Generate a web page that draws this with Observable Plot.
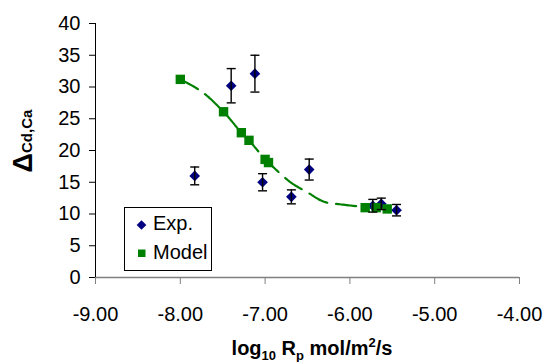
<!DOCTYPE html>
<html>
<head>
<meta charset="utf-8">
<script src="https://cdn.jsdelivr.net/npm/d3@7"></script>
<script src="https://cdn.jsdelivr.net/npm/@observablehq/plot@0.6"></script>
<style>
  html, body { margin: 0; padding: 0; background: #fff; }
  #chart svg { display: block; font-family: "Liberation Sans", Arial, sans-serif; }
</style>
</head>
<body>
<div id="chart"></div>
<script>
// Experimental data (log10 Rp, Delta, error)
const expX   = [-7.83, -7.40, -7.12, -7.03, -6.69, -6.48, -5.73, -5.63, -5.45];
const expY   = [16.0, 30.2, 32.1, 15.0, 12.7, 17.0, 11.3, 11.6, 10.6];
const expErr = [1.4, 2.7, 2.9, 1.35, 1.1, 1.65, 1.0, 0.9, 0.9];

// Model points
const modelX = [-8.0, -7.49, -7.28, -7.19, -7.0, -6.96, -5.82, -5.69, -5.56];
const modelY = [31.2, 26.1, 22.8, 21.6, 18.6, 18.1, 11.0, 11.0, 10.8];

// Model curve (dotted line)
const curveX = [-8.0, -7.75, -7.49, -7.28, -7.19, -7.0, -6.96, -6.7, -6.5, -6.3, -6.1, -5.82, -5.69, -5.56];
const curveY = [31.2, 29.3, 26.1, 22.8, 21.6, 18.6, 18.1, 15.0, 13.4, 11.9, 11.5, 11.1, 11.0, 10.8];

const xTicks = [-9, -8, -7, -6, -5, -4];
const yTicks = [0, 5, 10, 15, 20, 25, 30, 35, 40];
const legendLabels = ["Exp.", "Model"];

const expData = expX.map((x, i) => ({x, y: expY[i], lo: expY[i] - expErr[i], hi: expY[i] + expErr[i]}));
const modelData = modelX.map((x, i) => ({x, y: modelY[i]}));
const curveData = curveX.map((x, i) => ({x, y: curveY[i]}));

const capSymbol = {
  draw(ctx, size) {
    const r = Math.sqrt(size / Math.PI);
    ctx.moveTo(-r, 0);
    ctx.lineTo(r, 0);
  }
};

const plot = Plot.plot({
  width: 545,
  height: 362,
  marginLeft: 95,
  marginRight: 26,
  marginTop: 23,
  marginBottom: 85,
  style: {fontFamily: '"Liberation Sans", Arial, sans-serif', fontSize: "20px", color: "#000", background: "#fff"},
  x: {domain: [-9, -4]},
  y: {domain: [0, 40]},
  marks: [
    Plot.axisY({ticks: yTicks, tickSize: 6, tickPadding: 9, label: null, stroke: "#000", fontSize: 20}),
    Plot.axisX({ticks: xTicks, tickFormat: d => d.toFixed(2), tickSize: 7, tickPadding: 22, label: null, stroke: "#808080", fontSize: 20}),
    Plot.ruleY([0], {stroke: "#808080", strokeWidth: 1.6}),
    Plot.ruleX([-9], {stroke: "#000", strokeWidth: 1}),
    Plot.line(curveData, {x: "x", y: "y", stroke: "#008000", strokeWidth: 2.2, curve: "catmull-rom", strokeDasharray: "2.5,1,2.5,1,2.5,1,2.5,1,2.5,1,2.5,9"}),
    Plot.dot(expData, {x: "x", y: "y", symbol: "diamond2", r: 4.8, fill: "#000080", stroke: "none"}),
    Plot.dot(modelData, {x: "x", y: "y", symbol: "square", r: 5.3, fill: "#008000", stroke: "none"}),
    Plot.ruleX(expData, {x: "x", y1: "lo", y2: "hi", stroke: "#000", strokeWidth: 1.4}),
    Plot.dot(expData, {x: "x", y: "lo", symbol: capSymbol, r: 4.5, stroke: "#000", strokeWidth: 1.4, fill: "none"}),
    Plot.dot(expData, {x: "x", y: "hi", symbol: capSymbol, r: 4.5, stroke: "#000", strokeWidth: 1.4, fill: "none"})
  ]
});

document.getElementById("chart").appendChild(plot);

const svg = d3.select(plot);

// X axis title
const xt = svg.append("text")
  .attr("x", 312).attr("y", 355)
  .attr("text-anchor", "middle")
  .attr("font-weight", "bold")
  .attr("font-size", 20)
  .attr("fill", "#000");
xt.append("tspan").text("log");
xt.append("tspan").attr("dy", 5).attr("font-size", 13).text("10");
xt.append("tspan").attr("dy", -5).text(" R");
xt.append("tspan").attr("dy", 5).attr("font-size", 13).text("p");
xt.append("tspan").attr("dy", -5).text(" mol/m");
xt.append("tspan").attr("dy", -8).attr("font-size", 13).text("2");
xt.append("tspan").attr("dy", 8).text("/s");

// Y axis title
const yt = svg.append("text")
  .attr("transform", "translate(32,141) rotate(-90)")
  .attr("text-anchor", "middle")
  .attr("font-weight", "bold")
  .attr("fill", "#000");
yt.append("tspan").attr("font-size", 27).text("Δ");
yt.append("tspan").attr("font-size", 15).text("Cd,Ca");

// Legend
const lg = svg.append("g").attr("text-anchor", "start");
lg.append("rect").attr("x", 124.5).attr("y", 207.5).attr("width", 87).attr("height", 63)
  .attr("fill", "#fff").attr("stroke", "#000").attr("stroke-width", 1);
lg.append("path").attr("transform", "translate(141.5,225)")
  .attr("d", d3.symbol(d3.symbolDiamond2, 60)()).attr("fill", "#000080");
lg.append("rect").attr("x", 138).attr("y", 249.5).attr("width", 7.5).attr("height", 7.5).attr("fill", "#008000");
lg.append("text").attr("x", 153).attr("y", 229.5).attr("text-anchor", "start").attr("font-size", 20).attr("fill", "#000").text(legendLabels[0]);
lg.append("text").attr("x", 153).attr("y", 258.5).attr("text-anchor", "start").attr("font-size", 20).attr("fill", "#000").text(legendLabels[1]);
</script>
</body>
</html>
